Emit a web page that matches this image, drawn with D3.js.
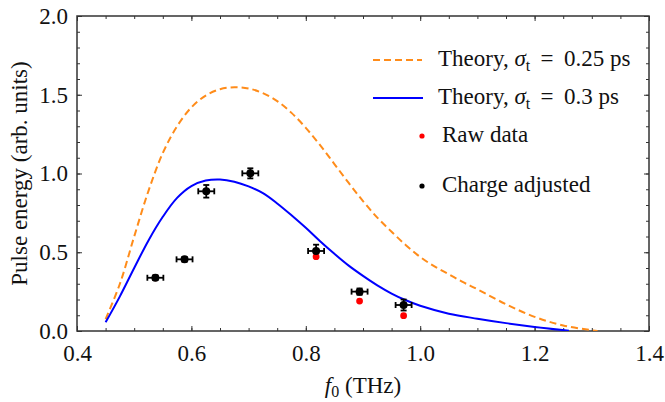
<!DOCTYPE html>
<html>
<head>
<meta charset="utf-8">
<script src="https://cdn.jsdelivr.net/npm/d3@7"></script>
<style>
  body { margin: 0; background: #fff; }
  svg text { font-family: "Liberation Serif", "Tinos", "Times New Roman", "Nimbus Roman", "DejaVu Serif", serif; fill: #111; }
  .axis path { display: none; }
  .axis line { stroke: #333; stroke-width: 1; }
  .axis text { font-size: 23px; }
</style>
</head>
<body>
<div id="chart"></div>
<script>
var serif = "Liberation Serif, Tinos, Times New Roman, Nimbus Roman, DejaVu Serif, serif";

// theory curves
var theory025 = [
    [0.45, 0.075], [0.475, 0.30], [0.50, 0.60], [0.525, 0.89], [0.55, 1.13], [0.575, 1.30],
    [0.60, 1.42], [0.625, 1.495], [0.65, 1.535], [0.675, 1.548], [0.70, 1.54], [0.725, 1.51],
    [0.75, 1.46], [0.775, 1.385], [0.80, 1.29], [0.825, 1.18], [0.85, 1.06], [0.875, 0.94],
    [0.90, 0.825], [0.925, 0.72], [0.95, 0.63], [0.975, 0.545], [1.00, 0.47], [1.025, 0.41],
    [1.05, 0.36], [1.075, 0.31], [1.10, 0.265], [1.15, 0.17], [1.20, 0.09], [1.25, 0.035],
    [1.31, 0.0]
];
var theory03 = [
    [0.45, 0.055], [0.475, 0.22], [0.50, 0.40], [0.525, 0.575], [0.55, 0.725], [0.575, 0.845],
    [0.60, 0.92], [0.625, 0.955], [0.65, 0.962], [0.675, 0.948], [0.70, 0.918], [0.725, 0.875],
    [0.75, 0.81], [0.775, 0.735], [0.80, 0.655], [0.825, 0.57], [0.85, 0.49], [0.875, 0.415],
    [0.90, 0.35], [0.925, 0.29], [0.95, 0.238], [0.975, 0.195], [1.00, 0.16], [1.05, 0.11],
    [1.10, 0.078], [1.15, 0.05], [1.20, 0.026], [1.26, 0.002]
];

// measured points
var freq = [0.537, 0.588, 0.626, 0.703, 0.818, 0.894, 0.971];
var freqErr = [0.014, 0.014, 0.014, 0.014, 0.014, 0.014, 0.014];
var rawData = [0.338, 0.455, 0.887, 1.001, 0.472, 0.19, 0.097];
var adjusted = [0.338, 0.455, 0.887, 1.001, 0.508, 0.25, 0.165];
var adjustedErr = [0.015, 0.015, 0.04, 0.032, 0.04, 0.02, 0.035];

var xMajor = [0.4, 0.6, 0.8, 1.0, 1.2, 1.4];
var yMajor = [0.0, 0.5, 1.0, 1.5, 2.0];

var W = 665, H = 402;
var margin = {top: 16, right: 16, bottom: 71, left: 77};
var w = W - margin.left - margin.right;
var h = H - margin.top - margin.bottom;

var svg = d3.select("#chart").append("svg")
    .attr("width", W)
    .attr("height", H);

var g = svg.append("g")
    .attr("transform", "translate(" + margin.left + "," + margin.top + ")");

var x = d3.scaleLinear().domain([0.4, 1.4]).range([0, w]);
var y = d3.scaleLinear().domain([0, 2]).range([h, 0]);

var xMinor = d3.range(0.4, 1.4001, 0.05);
var yMinor = d3.range(0, 2.0001, 0.1);

// ticks point inward on all four sides
g.append("g").attr("class", "axis").attr("transform", "translate(0," + h + ")")
    .call(d3.axisBottom(x).tickValues(xMinor).tickSize(-3).tickFormat(""));
g.append("g").attr("class", "axis").attr("transform", "translate(0," + h + ")")
    .call(d3.axisBottom(x).tickValues(xMajor).tickSize(-5).tickPadding(14).tickFormat(d3.format(".1f")));
g.append("g").attr("class", "axis")
    .call(d3.axisTop(x).tickValues(xMinor).tickSize(-3).tickFormat(""));
g.append("g").attr("class", "axis")
    .call(d3.axisTop(x).tickValues(xMajor).tickSize(-5).tickFormat(""));

g.append("g").attr("class", "axis")
    .call(d3.axisLeft(y).tickValues(yMinor).tickSize(-3).tickFormat(""));
g.append("g").attr("class", "axis")
    .call(d3.axisLeft(y).tickValues(yMajor).tickSize(-5).tickPadding(9).tickFormat(d3.format(".1f")));
g.append("g").attr("class", "axis").attr("transform", "translate(" + w + ",0)")
    .call(d3.axisRight(y).tickValues(yMinor).tickSize(-3).tickFormat(""));
g.append("g").attr("class", "axis").attr("transform", "translate(" + w + ",0)")
    .call(d3.axisRight(y).tickValues(yMajor).tickSize(-5).tickFormat(""));

g.selectAll(".axis").attr("font-family", serif).attr("font-size", 23);

g.append("rect")
    .attr("width", w).attr("height", h)
    .attr("fill", "none").attr("stroke", "#333").attr("stroke-width", 1.5);

g.append("clipPath").attr("id", "clip")
    .append("rect").attr("width", w).attr("height", h);

var line = d3.line()
    .x(function(d) { return x(d[0]); })
    .y(function(d) { return y(d[1]); })
    .curve(d3.curveCatmullRom.alpha(0.5));

g.append("path")
    .datum(theory025)
    .attr("clip-path", "url(#clip)")
    .attr("fill", "none")
    .attr("stroke", "#ff8c1a")
    .attr("stroke-width", 2)
    .attr("stroke-dasharray", "7,4")
    .attr("d", line);

g.append("path")
    .datum(theory03)
    .attr("clip-path", "url(#clip)")
    .attr("fill", "none")
    .attr("stroke", "#0000ff")
    .attr("stroke-width", 2)
    .attr("d", line);

// error bars
var pts = freq.map(function(f, i) {
    return {f: f, fe: freqErr[i], raw: rawData[i], adj: adjusted[i], ae: adjustedErr[i]};
});
var eb = g.append("g").attr("stroke", "#000").attr("stroke-width", 1.8);
pts.forEach(function(d) {
    var cx = x(d.f), cy = y(d.adj);
    eb.append("line").attr("x1", x(d.f - d.fe)).attr("x2", x(d.f + d.fe)).attr("y1", cy).attr("y2", cy);
    eb.append("line").attr("x1", x(d.f - d.fe)).attr("x2", x(d.f - d.fe)).attr("y1", cy - 3).attr("y2", cy + 3);
    eb.append("line").attr("x1", x(d.f + d.fe)).attr("x2", x(d.f + d.fe)).attr("y1", cy - 3).attr("y2", cy + 3);
    eb.append("line").attr("x1", cx).attr("x2", cx).attr("y1", y(d.adj - d.ae)).attr("y2", y(d.adj + d.ae));
    eb.append("line").attr("x1", cx - 3).attr("x2", cx + 3).attr("y1", y(d.adj - d.ae)).attr("y2", y(d.adj - d.ae));
    eb.append("line").attr("x1", cx - 3).attr("x2", cx + 3).attr("y1", y(d.adj + d.ae)).attr("y2", y(d.adj + d.ae));
});

g.selectAll(".raw").data(pts).enter().append("circle")
    .attr("cx", function(d) { return x(d.f); })
    .attr("cy", function(d) { return y(d.raw); })
    .attr("r", 3.4)
    .attr("fill", "#ff0000");

g.selectAll(".adj").data(pts).enter().append("circle")
    .attr("cx", function(d) { return x(d.f); })
    .attr("cy", function(d) { return y(d.adj); })
    .attr("r", 4)
    .attr("fill", "#000");

// axis labels
svg.append("text")
    .attr("transform", "translate(27," + (margin.top + h / 2) + ") rotate(-90)")
    .attr("text-anchor", "middle")
    .attr("font-family", serif)
    .attr("font-size", 23)
    .text("Pulse energy (arb. units)");

var xl = svg.append("text")
    .attr("x", margin.left + w / 2)
    .attr("y", 393)
    .attr("text-anchor", "middle")
    .attr("font-family", serif)
    .attr("font-size", 23);
xl.append("tspan").attr("font-style", "italic").text("f");
xl.append("tspan").attr("font-size", 16).attr("dy", 4).text("0");
xl.append("tspan").attr("dy", -4).text(" (THz)");

// legend
var legend = svg.append("g").attr("font-family", serif);
legend.append("line").attr("x1", 373).attr("x2", 422).attr("y1", 60).attr("y2", 60)
    .attr("stroke", "#ff8c1a").attr("stroke-width", 2).attr("stroke-dasharray", "7,4");
legend.append("line").attr("x1", 373).attr("x2", 423).attr("y1", 98).attr("y2", 98)
    .attr("stroke", "#0000ff").attr("stroke-width", 2);
legend.append("circle").attr("cx", 422).attr("cy", 136).attr("r", 2.6).attr("fill", "#ff0000");
legend.append("circle").attr("cx", 422).attr("cy", 186).attr("r", 2.6).attr("fill", "#000");

function theoryLabel(yy, val) {
    var t = legend.append("text").attr("x", 438).attr("y", yy).attr("font-size", 23);
    t.append("tspan").text("Theory, ");
    t.append("tspan").attr("font-style", "italic").text("\u03c3");
    t.append("tspan").attr("font-size", 16).attr("dy", 5).text("t");
    t.append("tspan").attr("dy", -5).text(" \u2009=\u2009 " + val + " ps");
}
theoryLabel(66, "0.25");
theoryLabel(104, "0.3");
legend.append("text").attr("x", 442).attr("y", 142).attr("font-size", 23).text("Raw data");
legend.append("text").attr("x", 442).attr("y", 192).attr("font-size", 23).text("Charge adjusted");
</script>
</body>
</html>
